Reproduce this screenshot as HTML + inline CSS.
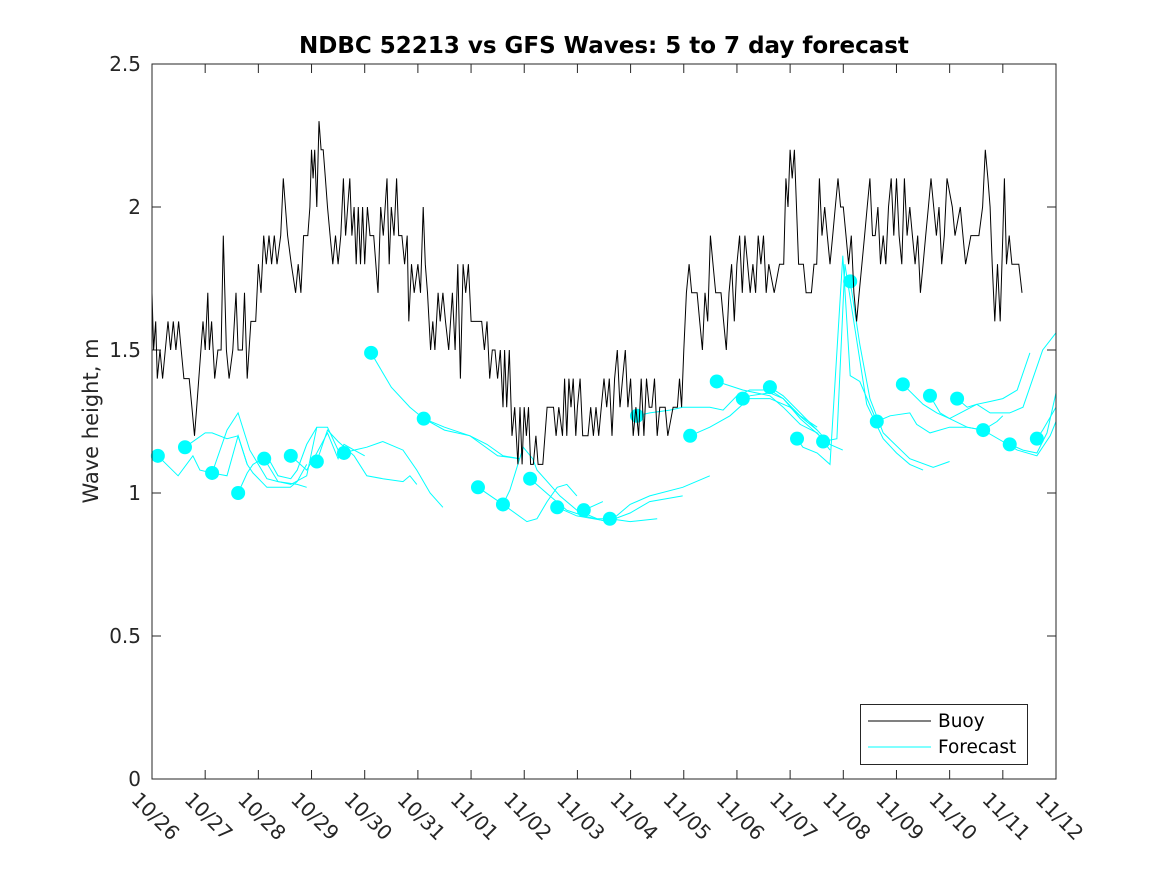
<!DOCTYPE html>
<html><head><meta charset="utf-8"><style>
body{margin:0;background:#fff;}
svg{display:block;font-family:"DejaVu Sans","Liberation Sans",sans-serif;}
</style></head><body>
<svg id="chart" width="1167" height="875" viewBox="0 0 1167 875">
<rect x="0" y="0" width="1167" height="875" fill="#fff"/>
<text x="604" y="53" text-anchor="middle" font-size="23" font-weight="bold" fill="#000">NDBC 52213 vs GFS Waves: 5 to 7 day forecast</text>
<text transform="translate(98,421) rotate(-90)" text-anchor="middle" font-size="21" fill="#262626">Wave height, m</text>
<g id="grid"></g>
<g id="series"></g>
<rect x="152" y="64" width="904" height="715" fill="none" stroke="#262626" stroke-width="1"/>
<g>
<rect x="860.5" y="704.5" width="167" height="60" fill="#fff" stroke="#262626"/>
<line x1="868" y1="721" x2="931" y2="721" stroke="#000"/>
<text x="938" y="727" font-size="18.5" fill="#000">Buoy</text>
<line x1="868" y1="747" x2="931" y2="747" stroke="#00ffff"/>
<text x="938" y="753" font-size="18.5" fill="#000">Forecast</text>
</g>
</svg>
<script>
const xTickLabels=["10/26","10/27","10/28","10/29","10/30","10/31","11/01","11/02","11/03","11/04","11/05","11/06","11/07","11/08","11/09","11/10","11/11","11/12"];
const yTicks=[0,0.5,1,1.5,2,2.5];
const yTickLabels=["0","0.5","1","1.5","2","2.5"];
const buoyDays=[0,0.03,0.07,0.1,0.15,0.2,0.25,0.3,0.35,0.4,0.45,0.5,0.55,0.6,0.7,0.75,0.8,0.84,0.88,0.92,0.96,1.0,1.05,1.08,1.12,1.18,1.24,1.3,1.34,1.4,1.45,1.52,1.58,1.62,1.7,1.74,1.79,1.86,1.95,2.0,2.05,2.1,2.15,2.2,2.25,2.3,2.35,2.42,2.47,2.55,2.62,2.7,2.75,2.8,2.85,2.93,2.97,3.0,3.03,3.06,3.1,3.14,3.18,3.22,3.26,3.3,3.35,3.4,3.45,3.5,3.55,3.6,3.64,3.68,3.72,3.76,3.8,3.84,3.88,3.92,3.96,4.0,4.05,4.1,4.17,4.25,4.3,4.35,4.42,4.46,4.5,4.55,4.6,4.64,4.7,4.75,4.8,4.83,4.88,4.93,5.0,5.05,5.1,5.14,5.18,5.24,5.28,5.32,5.38,5.42,5.47,5.52,5.58,5.65,5.7,5.75,5.8,5.85,5.9,5.95,6.0,6.1,6.2,6.25,6.3,6.35,6.4,6.45,6.5,6.55,6.6,6.63,6.67,6.72,6.77,6.82,6.88,6.92,6.96,7.0,7.04,7.08,7.12,7.17,7.22,7.26,7.35,7.43,7.55,7.6,7.65,7.72,7.76,7.8,7.84,7.88,7.92,7.97,8.0,8.05,8.1,8.2,8.25,8.3,8.35,8.4,8.45,8.5,8.55,8.6,8.65,8.7,8.75,8.8,8.85,8.9,8.95,9.0,9.05,9.1,9.15,9.2,9.25,9.3,9.35,9.4,9.45,9.5,9.55,9.65,9.7,9.8,9.88,9.92,9.96,10.0,10.05,10.1,10.15,10.25,10.3,10.35,10.4,10.45,10.5,10.55,10.6,10.7,10.75,10.8,10.85,10.9,10.95,11.0,11.05,11.1,11.15,11.2,11.25,11.3,11.35,11.4,11.45,11.5,11.55,11.6,11.7,11.8,11.88,11.92,11.96,12.0,12.04,12.08,12.12,12.16,12.25,12.3,12.4,12.45,12.5,12.55,12.6,12.65,12.7,12.75,12.8,12.85,12.9,12.95,13.0,13.05,13.1,13.15,13.2,13.25,13.3,13.35,13.4,13.45,13.5,13.55,13.6,13.65,13.7,13.75,13.8,13.85,13.9,13.95,14.0,14.05,14.1,14.15,14.2,14.25,14.3,14.35,14.4,14.45,14.5,14.55,14.6,14.65,14.7,14.75,14.8,14.85,14.9,14.95,15.05,15.1,15.2,15.3,15.4,15.5,15.55,15.62,15.67,15.72,15.76,15.8,15.85,15.9,15.95,16.0,16.03,16.07,16.12,16.17,16.3,16.36];
const buoyHeights=[1.7,1.5,1.6,1.4,1.5,1.4,1.5,1.6,1.5,1.6,1.5,1.6,1.5,1.4,1.4,1.3,1.2,1.3,1.4,1.5,1.6,1.5,1.7,1.5,1.6,1.4,1.5,1.5,1.9,1.5,1.4,1.5,1.7,1.5,1.5,1.7,1.4,1.6,1.6,1.8,1.7,1.9,1.8,1.9,1.8,1.9,1.8,1.9,2.1,1.9,1.8,1.7,1.8,1.7,1.9,1.9,2.0,2.2,2.1,2.2,2.0,2.3,2.2,2.2,2.1,2.0,1.9,1.8,1.9,1.8,1.9,2.1,1.9,2.0,2.1,1.9,2.0,1.8,2.0,1.8,2.0,1.8,2.0,1.9,1.9,1.7,2.0,1.9,2.1,1.8,2.0,1.9,2.1,1.9,1.9,1.8,1.9,1.6,1.8,1.7,1.8,1.7,2.0,1.8,1.7,1.5,1.6,1.5,1.7,1.6,1.7,1.6,1.5,1.7,1.5,1.8,1.4,1.8,1.7,1.8,1.6,1.6,1.6,1.5,1.6,1.4,1.5,1.5,1.4,1.5,1.3,1.5,1.3,1.5,1.2,1.3,1.1,1.3,1.1,1.3,1.2,1.3,1.1,1.1,1.2,1.1,1.1,1.3,1.3,1.2,1.3,1.2,1.4,1.2,1.4,1.3,1.4,1.2,1.3,1.4,1.2,1.2,1.3,1.2,1.3,1.2,1.3,1.4,1.3,1.4,1.2,1.4,1.5,1.3,1.4,1.5,1.3,1.4,1.2,1.3,1.2,1.4,1.2,1.4,1.3,1.3,1.4,1.2,1.3,1.3,1.2,1.3,1.3,1.4,1.3,1.5,1.7,1.8,1.7,1.7,1.6,1.5,1.7,1.6,1.9,1.8,1.7,1.7,1.6,1.5,1.7,1.8,1.6,1.8,1.9,1.7,1.9,1.8,1.7,1.8,1.7,1.9,1.8,1.9,1.7,1.8,1.7,1.8,1.8,2.1,2.0,2.2,2.1,2.2,2.0,1.8,1.8,1.7,1.7,1.8,1.8,2.1,1.9,2.0,1.9,1.8,1.9,2.0,2.1,2.0,2.0,1.9,1.8,1.9,1.7,1.6,1.7,1.8,1.9,2.0,2.1,1.9,1.9,2.0,1.8,1.9,1.8,2.0,2.1,1.9,2.1,1.9,1.8,2.1,1.9,2.0,1.9,1.8,1.9,1.7,1.8,1.9,2.0,2.1,2.0,1.9,2.0,1.8,1.9,2.1,2.0,1.9,2.0,1.8,1.9,1.9,1.9,2.0,2.2,2.1,2.0,1.8,1.6,1.8,1.6,1.9,2.1,1.8,1.9,1.8,1.8,1.7];
const forecastDays=[
[0.11,0.49,0.77,0.90,1.13,1.41,1.62,1.79],
[0.62,1.0,1.13,1.41,1.62,1.79,1.90,2.16,2.6,2.73,2.91],
[1.13,1.41,1.62,1.84,2.16,2.37,2.73,2.91],
[1.62,1.79,1.90,2.16,2.37,2.61,2.73,2.91,3.10],
[2.11,2.37,2.61,2.91,3.10,3.3,3.5],
[2.61,2.91,3.10,3.3,3.5,3.61,3.8,4.0],
[3.10,3.3,3.5,3.8,4.04,4.34,4.72,4.85,4.98],
[3.61,3.8,4.04,4.34,4.72,4.98,5.23,5.47],
[4.12,4.5,4.85,5.11,5.5,5.98,6.5,6.92],
[5.11,5.5,5.98,6.3,6.6,6.92],
[6.13,6.60,7.05,7.24,7.43,7.62,7.80,7.99],
[6.60,6.73,6.98,7.16,7.24,7.48,7.67,7.99,8.37,8.56],
[7.11,7.48,7.80,8.12,8.56,8.99,9.36,9.98],
[7.62,7.99,8.61,8.99,9.36,9.98,10.49],
[8.12,8.48],
[8.61,8.99,9.50],
[9.12,9.36,9.74,9.98,10.49,10.74,11.0,11.24,11.62,11.87,12.19,12.51],
[10.12,10.49,10.87,11.11,11.24,11.62,11.87,12.19,12.62],
[10.62,11.11,11.62,11.87,12.19,12.51,12.75],
[11.11,11.62,12.0,12.24,12.51],
[11.62,11.87,12.19,12.51,12.75,12.99],
[12.13,12.24,12.51,12.75,12.99,13.13,13.31,13.63],
[12.62,12.88,13.03,13.44,13.75,14.0,14.25,14.5],
[13.13,13.31,13.5,13.75,14.25,14.69,15.0],
[13.63,13.88,14.25,14.38,14.63,15.0,15.33,15.63],
[14.12,14.5,14.76,15.0,15.33,15.63,16.0,16.27,16.64,16.89,17.0],
[14.63,14.82,15.0,15.51,15.76,16.0,16.27,16.51],
[15.14,15.33,15.51,15.76,16.13,16.38,16.75,17.0],
[15.63,15.89,16.0],
[16.13,16.38,16.64,16.83,17.0],
[16.64,16.75,17.0]];
const forecastHeights=[
[1.13,1.06,1.13,1.08,1.07,1.06,1.20,1.10],
[1.16,1.21,1.21,1.19,1.20,1.10,1.07,1.02,1.02,1.04,1.10],
[1.07,1.22,1.28,1.15,1.05,1.04,1.03,1.02],
[1.00,1.07,1.10,1.13,1.06,1.05,1.08,1.17,1.23],
[1.12,1.04,1.03,1.06,1.23,1.23,1.15],
[1.13,1.08,1.14,1.21,1.12,1.17,1.15,1.13],
[1.11,1.22,1.18,1.13,1.06,1.05,1.04,1.06,1.03],
[1.14,1.15,1.16,1.18,1.15,1.08,1.00,0.95],
[1.49,1.37,1.30,1.26,1.22,1.20,1.13,1.12],
[1.26,1.23,1.20,1.17,1.13,1.12],
[1.02,0.96,0.90,0.91,0.97,1.02,1.03,0.99],
[0.96,1.01,1.16,1.12,1.08,1.03,0.99,0.94,0.91,0.91],
[1.05,0.99,0.94,0.92,0.90,0.93,0.97,0.99],
[0.95,0.92,0.90,0.96,0.99,1.02,1.06],
[0.94,0.97],
[0.91,0.90,0.91],
[1.27,1.28,1.29,1.30,1.30,1.29,1.34,1.36,1.36,1.33,1.27,1.23],
[1.20,1.23,1.27,1.31,1.34,1.35,1.33,1.26,1.19],
[1.39,1.36,1.34,1.30,1.24,1.21,1.15],
[1.33,1.33,1.30,1.26,1.22],
[1.37,1.34,1.28,1.22,1.17,1.15],
[1.19,1.16,1.14,1.10,1.83,1.41,1.39,1.25],
[1.18,1.19,1.80,1.31,1.19,1.14,1.10,1.08],
[1.74,1.52,1.33,1.21,1.12,1.09,1.11],
[1.25,1.27,1.28,1.24,1.21,1.23,1.23,1.22],
[1.38,1.31,1.28,1.26,1.23,1.22,1.18,1.15,1.13,1.20,1.25],
[1.34,1.28,1.26,1.31,1.32,1.33,1.36,1.49],
[1.33,1.30,1.31,1.28,1.28,1.30,1.50,1.56],
[1.22,1.25,1.27],
[1.17,1.15,1.14,1.21,1.35],
[1.19,1.22,1.30]];

const NS="http://www.w3.org/2000/svg";
const X0=152,X1=1056,Y0=779,Y1=64,DAYS=17,YMAX=2.5;
function xs(d){return X0+d*(X1-X0)/DAYS;}
function ys(v){return Y0-v*(Y0-Y1)/YMAX;}
function mk(tag,attrs,parent){const e=document.createElementNS(NS,tag);for(const k in attrs)e.setAttribute(k,attrs[k]);parent.appendChild(e);return e;}
const grid=document.getElementById('grid');
const series=document.getElementById('series');
xTickLabels.forEach((lab,i)=>{
  const x=xs(i);
  const t1=mk('line',{x1:x,y1:Y0,x2:x,y2:Y0-9,stroke:'#262626'},grid);
  
  
  const t2=mk('line',{x1:x,y1:Y1,x2:x,y2:Y1+9,stroke:'#262626'},grid);
  
  
  const tx=mk('text',{x:x-11,y:790,'font-size':20,fill:'#262626','dominant-baseline':'hanging',transform:'rotate(45 '+(x-11)+' 790)'},grid);
  tx.textContent=lab;
  
  
});
yTicks.forEach((v,i)=>{
  const y=ys(v);
  const t1=mk('line',{x1:X0,y1:y,x2:X0+9,y2:y,stroke:'#262626'},grid);
  
  
  const t2=mk('line',{x1:X1,y1:y,x2:X1-9,y2:y,stroke:'#262626'},grid);
  
  
  const tx=mk('text',{x:141,y:y+7,'font-size':20,fill:'#262626','text-anchor':'end'},grid);
  tx.textContent=yTickLabels[i];
  
  
});
forecastDays.forEach((ts,r)=>{
  const hs=forecastHeights[r];
  const pts=ts.map((t,i)=>xs(t).toFixed(1)+','+ys(hs[i]).toFixed(1)).join(' ');
  const pl=mk('polyline',{points:pts,fill:'none',stroke:'#00ffff','stroke-width':1},series);
  
  
});
forecastDays.forEach((ts,r)=>{
  const c=mk('circle',{cx:xs(ts[0]),cy:ys(forecastHeights[r][0]),r:7,fill:'#00ffff'},series);
  
  
});
const bpts=buoyDays.map((t,i)=>xs(t).toFixed(1)+','+ys(buoyHeights[i]).toFixed(1)).join(' ');
const bl=mk('polyline',{points:bpts,fill:'none',stroke:'#000','stroke-width':1},series);


</script>
</body></html>
